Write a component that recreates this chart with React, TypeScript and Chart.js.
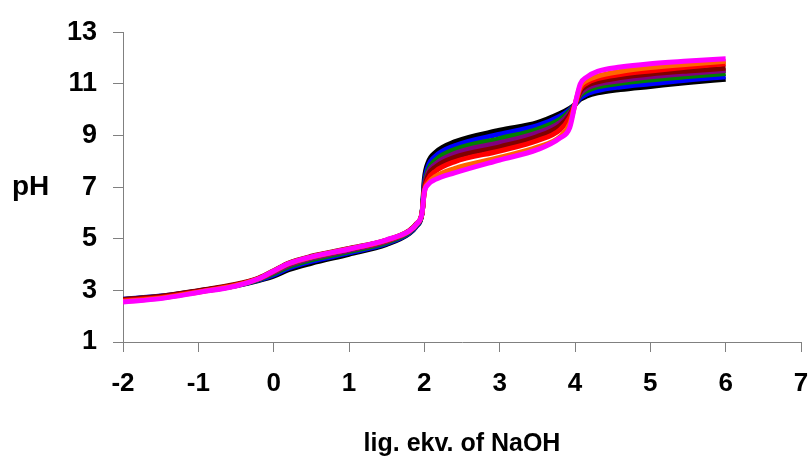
import React, { useEffect, useRef } from "react";
import { Chart, registerables } from "chart.js";

Chart.register(...registerables);

const xValues = [-2, -1.5, -1, -0.5, -0.2, 0, 0.2, 0.5, 1, 1.5, 1.8, 1.9, 1.97, 2.0, 2.05, 2.15, 2.4, 3, 3.5, 3.8, 3.93, 4.0, 4.07, 4.15, 4.3, 4.6, 5, 5.5, 6];

const blackPH = [2.62, 2.74, 2.95, 3.18, 3.38, 3.55, 3.8, 4.05, 4.4, 4.78, 5.2, 5.5, 6.0, 7.3, 7.95, 8.35, 8.75, 9.2, 9.5, 9.85, 10.05, 10.2, 10.4, 10.52, 10.65, 10.78, 10.9, 11.05, 11.18];
const bluePH = [2.66, 2.78, 2.98, 3.2, 3.4, 3.6, 3.86, 4.12, 4.45, 4.82, 5.22, 5.52, 6.0, 7.15, 7.8, 8.2, 8.6, 9.05, 9.38, 9.75, 10.0, 10.2, 10.45, 10.6, 10.74, 10.88, 11.0, 11.15, 11.27];
const greenPH = [2.64, 2.76, 2.97, 3.2, 3.42, 3.65, 3.92, 4.18, 4.5, 4.86, 5.25, 5.55, 6.0, 7.05, 7.65, 8.05, 8.45, 8.88, 9.24, 9.62, 9.95, 10.2, 10.55, 10.72, 10.88, 11.02, 11.15, 11.28, 11.4];
const purplePH = [2.63, 2.75, 2.97, 3.21, 3.44, 3.7, 3.98, 4.24, 4.55, 4.9, 5.28, 5.57, 6.0, 6.95, 7.55, 7.9, 8.3, 8.72, 9.1, 9.5, 9.88, 10.2, 10.62, 10.82, 10.98, 11.12, 11.27, 11.4, 11.52];
const maroonPH = [2.65, 2.77, 2.99, 3.24, 3.48, 3.76, 4.06, 4.32, 4.62, 4.95, 5.32, 5.6, 6.0, 6.9, 7.45, 7.78, 8.15, 8.56, 8.96, 9.38, 9.8, 10.2, 10.7, 10.92, 11.08, 11.24, 11.38, 11.5, 11.6];
const redPH = [2.6, 2.72, 2.95, 3.21, 3.46, 3.74, 4.04, 4.3, 4.6, 4.94, 5.3, 5.58, 6.0, 6.85, 7.3, 7.62, 7.98, 8.4, 8.8, 9.22, 9.7, 10.2, 10.8, 11.02, 11.2, 11.36, 11.5, 11.65, 11.78];
const orangePH = [2.57, 2.7, 2.93, 3.19, 3.45, 3.74, 4.03, 4.29, 4.6, 4.95, 5.3, 5.58, 6.0, 6.8, 7.15, 7.42, 7.72, 8.15, 8.55, 8.95, 9.45, 10.2, 10.9, 11.12, 11.3, 11.48, 11.63, 11.76, 11.87];
const magentaPH = [2.55, 2.68, 2.92, 3.17, 3.45, 3.75, 4.04, 4.3, 4.6, 4.96, 5.3, 5.58, 6.0, 6.8, 7.1, 7.3, 7.55, 8.05, 8.45, 8.9, 9.3, 10.2, 11.0, 11.25, 11.48, 11.65, 11.78, 11.88, 11.97];

const seriesValues = [blackPH, bluePH, greenPH, purplePH, maroonPH, redPH, orangePH, magentaPH];
const seriesColors = ["#000000", "#0000FF", "#008000", "#800080", "#800000", "#FF0000", "#FF6600", "#FF00FF"];

const xTitle = "lig. ekv. of NaOH";
const yTitle = "pH";

const FONT = "'Liberation Sans', Arial, sans-serif";

const yLabelPlugin = {
  id: "yLabelPlugin",
  afterDraw(chart: any) {
    const { ctx, chartArea } = chart;
    ctx.save();
    ctx.font = `bold 28px ${FONT}`;
    ctx.fillStyle = "#000";
    ctx.textAlign = "left";
    ctx.textBaseline = "middle";
    ctx.fillText(yTitle, 12, (chartArea.top + chartArea.bottom) / 2);
    ctx.restore();
  },
};

export default function App() {
  const ref = useRef<HTMLCanvasElement>(null);

  useEffect(() => {
    if (!ref.current) return;
    const n = seriesValues.length;
    const chart = new Chart(ref.current, {
      type: "line",
      data: {
        datasets: seriesValues.map((vals, i) => ({
          label: `S${i + 1}`,
          data: xValues.map((x, j) => ({ x, y: vals[j] })),
          borderColor: seriesColors[i],
          backgroundColor: seriesColors[i],
          borderWidth: 5,
          pointRadius: 0,
          fill: false,
          order: n - i,
          cubicInterpolationMode: "monotone" as const,
        })),
      },
      options: {
        animation: false,
        responsive: true,
        maintainAspectRatio: false,
        layout: { padding: { top: 30, right: 0, bottom: 0, left: 0 } },
        plugins: {
          legend: { display: false },
          tooltip: { enabled: false },
        },
        scales: {
          x: {
            type: "linear",
            min: -2,
            max: 7,
            afterFit: (scale: any) => {
              scale.height = 117;
              scale.paddingRight = 11;
            },
            ticks: {
              stepSize: 1,
              padding: 16,
              color: "#000",
              font: { family: FONT, size: 26, weight: "bold" },
            },
            grid: {
              drawOnChartArea: false,
              drawTicks: true,
              tickLength: 10,
              color: "#808080",
            },
            border: { display: true, color: "#808080", width: 1 },
            title: {
              display: true,
              text: xTitle,
              color: "#000",
              font: { family: FONT, size: 25, weight: "bold" },
              padding: { top: 4, bottom: 0 },
            },
          },
          y: {
            type: "linear",
            min: 1,
            max: 13,
            afterFit: (scale: any) => {
              scale.width = 123;
            },
            ticks: {
              stepSize: 2,
              padding: 16,
              color: "#000",
              font: { family: FONT, size: 27, weight: "bold" },
            },
            grid: {
              drawOnChartArea: false,
              drawTicks: true,
              tickLength: 10,
              color: "#808080",
            },
            border: { display: true, color: "#808080", width: 1 },
          },
        },
      },
      plugins: [yLabelPlugin],
    });
    return () => chart.destroy();
  }, []);

  return (
    <div style={{ position: "fixed", left: 0, top: 0, width: 812, height: 459, background: "#fff" }}>
      <canvas ref={ref} />
    </div>
  );
}
